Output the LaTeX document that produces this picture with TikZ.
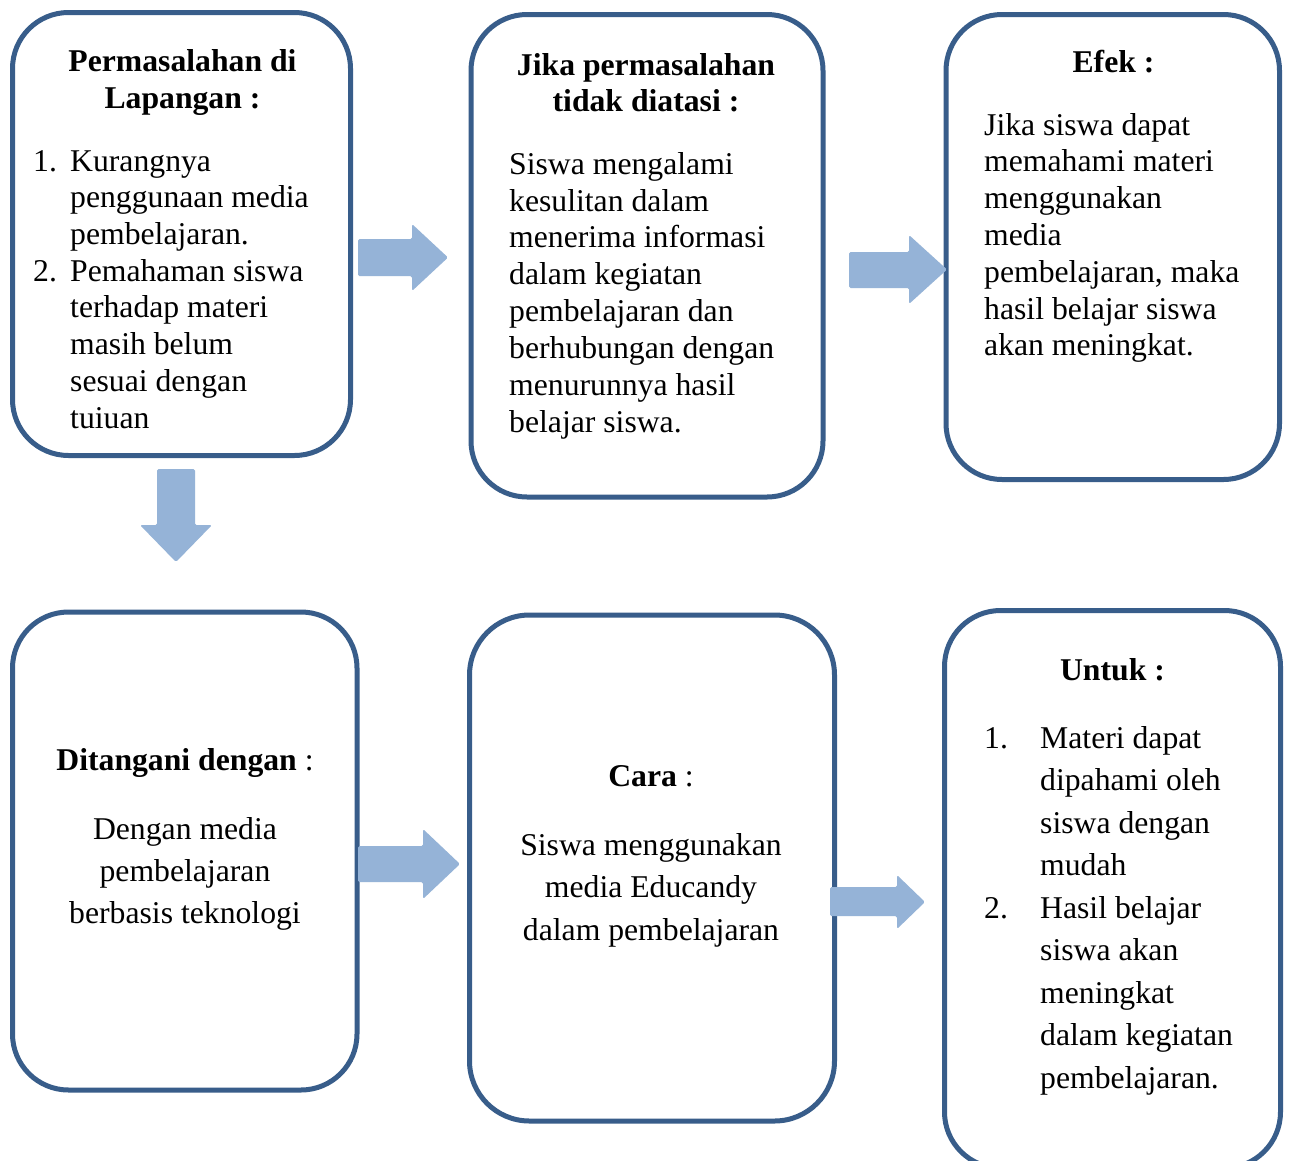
\documentclass[tikz,border=0pt]{standalone}
\usepackage{fontspec}
\setmainfont{Liberation Serif}
\definecolor{boxline}{RGB}{56,93,138}
\definecolor{arrowfill}{RGB}{149,179,215}
\tikzset{
  box/.style={draw=boxline, line width=5pt, rounded corners=56pt, fill=white, inner sep=0pt},
  blockarrow/.style={fill=arrowfill, rounded corners=1.5pt},
  txtl/.style={inner sep=0pt, align=left, anchor=north west, font=\fontsize{31.7}{#1}\selectfont},
  txtc/.style={inner sep=0pt, align=center, anchor=north, font=\fontsize{31.7}{#1}\selectfont},
  hd/.style={inner sep=0pt, align=center, anchor=north, font=\fontsize{31.7}{#1}\selectfont\bfseries},
}
\newcommand{\numA}[1]{\makebox[37pt][l]{#1}}
\newcommand{\numB}[1]{\makebox[56pt][l]{#1}}
\begin{document}
\begin{tikzpicture}[x=1pt,y=-1pt]
\clip (0,0) rectangle (1291,1160);
\fill[white] (0,0) rectangle (1291,1160);

% boxes
\node[box, minimum width=338pt, minimum height=443pt] (b1) at (181.5,234) {};
\node[box, minimum width=352pt, minimum height=482.5pt] (b2) at (647,255.75) {};
\node[box, minimum width=333.5pt, minimum height=465pt] (b3) at (1112.75,247) {};
\node[box, minimum width=344.5pt, minimum height=478pt] (b4) at (184.75,851) {};
\node[box, rounded corners=60pt, minimum width=365pt, minimum height=506pt] (b5) at (652,868) {};
\node[box, minimum width=336pt, minimum height=557.5pt] (b6) at (1112.5,889.25) {};

% texts box 1
\node[hd=37] (t1h) at (182.5,45.1) {\strut Permasalahan di\\Lapangan :};
\node[txtl=36.7] (t1b) at (33,145.3) {\strut\numA{1.}Kurangnya\\
\hspace*{37pt}penggunaan media\\
\hspace*{37pt}pembelajaran.\\
\numA{2.}Pemahaman siswa\\
\hspace*{37pt}terhadap materi\\
\hspace*{37pt}masih belum\\
\hspace*{37pt}sesuai dengan\\
\hspace*{37pt}tuiuan};

% texts box 2
\node[hd=36] (t2h) at (646,49.8) {\strut Jika permasalahan\\tidak diatasi :};
\node[txtl=36.86] (t2b) at (509,148.2) {\strut Siswa mengalami\\
kesulitan dalam\\
menerima informasi\\
dalam kegiatan\\
pembelajaran dan\\
berhubungan dengan\\
menurunnya hasil\\
belajar siswa.};

% texts box 3
\node[hd=37] (t3h) at (1113.5,46.1) {\strut Efek :};
\node[txtl=36.8] (t3b) at (984,109.2) {\strut Jika siswa dapat\\
memahami materi\\
menggunakan\\
media\\
pembelajaran, maka\\
hasil belajar siswa\\
akan meningkat.};

% texts box 4
\node[txtc=42] (t4h) at (185,740.6) {\strut\textbf{Ditangani dengan} :};
\node[txtc=42] (t4b) at (185,809.6) {\strut Dengan media\\pembelajaran\\berbasis teknologi};

% texts box 5
\node[txtc=42] (t5h) at (651,756.6) {\strut\textbf{Cara} :};
\node[txtc=42.5] (t5b) at (651,825.25) {\strut Siswa menggunakan\\media Educandy\\dalam pembelajaran};

% texts box 6
\node[hd=42] (t6h) at (1112.5,650.6) {\strut Untuk :};
\node[txtl=42.5] (t6b) at (984,718.25) {\strut\numB{1.}Materi dapat\\
\hspace*{56pt}dipahami oleh\\
\hspace*{56pt}siswa dengan\\
\hspace*{56pt}mudah\\
\numB{2.}Hasil belajar\\
\hspace*{56pt}siswa akan\\
\hspace*{56pt}meningkat\\
\hspace*{56pt}dalam kegiatan\\
\hspace*{56pt}pembelajaran.};

% block arrows
\fill[blockarrow] (358,239) -- (412,239) -- (412,224) -- (448,257.5) -- (412,291) -- (412,276) -- (358,276) -- cycle;
\fill[blockarrow] (849,252) -- (909,252) -- (909,235) -- (947,269.5) -- (909,304) -- (909,288) -- (849,288) -- cycle;
\fill[blockarrow] (157,469) -- (195,469) -- (195,525) -- (212,525) -- (176,562) -- (140,525) -- (157,525) -- cycle;
\fill[blockarrow] (358,846) -- (423,846) -- (423,829) -- (460,864) -- (423,899) -- (423,882) -- (358,882) -- cycle;
\fill[blockarrow] (830,887) -- (897,887) -- (897,875) -- (925,902) -- (897,929) -- (897,916) -- (830,916) -- cycle;
\end{tikzpicture}
\end{document}
